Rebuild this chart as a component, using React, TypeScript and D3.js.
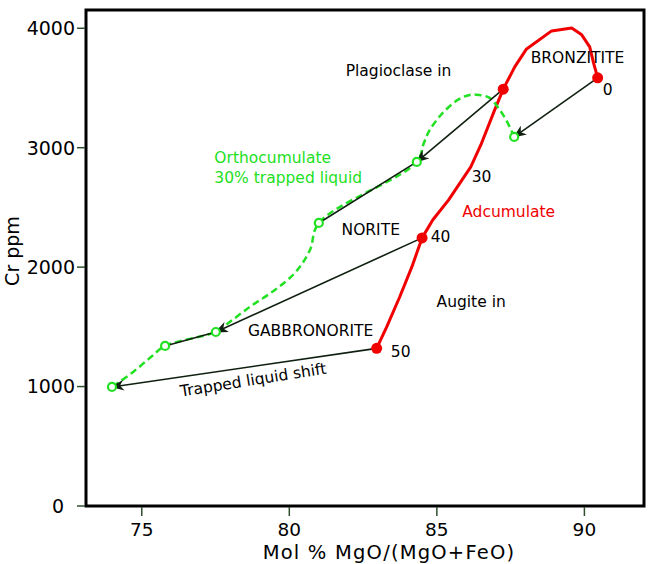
import React from "react";
import * as d3 from "d3";

const xTicks = [75, 80, 85, 90];
const yTicks = [0, 1000, 2000, 3000, 4000];

// adcumulate trend, from the 50% point up to the 0% point
const adcumulateCurve: [number, number][] = [
  [82.96, 1320], [83.3, 1500], [83.74, 1750], [84.15, 2000], [84.5, 2245],
  [84.86, 2395], [85.4, 2563], [86.15, 2839], [86.49, 3023], [86.96, 3317],
  [87.25, 3490], [87.64, 3677], [88.04, 3827], [88.89, 3978], [89.57, 4003],
  [89.91, 3945], [90.18, 3844], [90.31, 3710], [90.45, 3585],
];

const adcumulatePoints: [number, number][] = [
  [90.45, 3585], [87.25, 3490], [84.5, 2245], [82.96, 1320],
];

// orthocumulate trend with 30% trapped liquid
const orthoCurve: [number, number][] = [
  [87.62, 3090], [87.4, 3208], [87.13, 3317], [86.79, 3417], [86.42, 3442],
  [86.11, 3442], [85.71, 3400], [85.2, 3291], [84.76, 3149], [84.56, 3040],
  [84.32, 2881], [81.0, 2370], [80.7, 2144], [80.22, 1960], [79.51, 1809],
  [78.66, 1667], [77.85, 1516], [77.51, 1457], [75.79, 1340],
  [75.3, 1245], [74.72, 1125], [74.2, 1032], [73.99, 997],
];

const orthoPoints: [number, number][] = [
  [87.62, 3090], [84.32, 2881], [81.0, 2370], [77.51, 1457], [75.79, 1340], [73.99, 997],
];

// trapped liquid shift arrows (adcumulate -> orthocumulate)
const shiftArrows: [number, number][][] = [
  [[90.45, 3585], [87.62, 3090]],
  [[87.25, 3490], [84.32, 2881]],
  [[84.5, 2245], [77.51, 1457]],
  [[82.96, 1320], [73.99, 997]],
];

const shiftLinks: [number, number][][] = [
  [[84.32, 2881], [81.0, 2370]],
  [[77.51, 1457], [75.79, 1340]],
];

const labels = [
  { text: "Plagioclase in", mg: 81.91, cr: 3601, kind: "black" },
  { text: "BRONZITITE", mg: 88.18, cr: 3712, kind: "black" },
  { text: "0", mg: 90.62, cr: 3442, kind: "black" },
  { text: "30", mg: 86.18, cr: 2714, kind: "black" },
  { text: "40", mg: 84.79, cr: 2211, kind: "black" },
  { text: "50", mg: 83.44, cr: 1248, kind: "black" },
  { text: "Adcumulate", mg: 85.86, cr: 2420, kind: "red" },
  { text: "Orthocumulate", mg: 77.46, cr: 2873, kind: "green" },
  { text: "30% trapped liquid", mg: 77.46, cr: 2705, kind: "green" },
  { text: "NORITE", mg: 81.77, cr: 2270, kind: "black" },
  { text: "GABBRONORITE", mg: 78.6, cr: 1424, kind: "black" },
  { text: "Augite in", mg: 84.99, cr: 1667, kind: "black" },
];

const RED = "#f00000";
const GREEN = "#22e022";
const INK = "#102010";
const FONT = "'DejaVu Sans', Verdana, sans-serif";

export default function App() {
  const width = 653;
  const height = 564;
  const x = d3.scaleLinear().domain([73.11, 92.02]).range([86, 644]);
  const y = d3.scaleLinear().domain([0, 4153]).range([506, 10]);

  const redLine = d3.line<[number, number]>().x((d) => x(d[0])).y((d) => y(d[1]));
  const greenLine = d3
    .line<[number, number]>()
    .x((d) => x(d[0]))
    .y((d) => y(d[1]))
    .curve(d3.curveCatmullRom);

  const colorOf = (k: string) => (k === "red" ? RED : k === "green" ? GREEN : "#000");

  return (
    <svg
      width={width}
      height={height}
      style={{ position: "absolute", left: 0, top: 0, background: "#fff" }}
      fontFamily={FONT}
    >
      <defs>
        <marker
          id="arrow"
          viewBox="0 0 12 10"
          refX={11}
          refY={5}
          markerWidth={13}
          markerHeight={11}
          markerUnits="userSpaceOnUse"
          orient="auto"
        >
          <path d="M0,0 L12,5 L0,10 L3.5,5 Z" fill={INK} />
        </marker>
      </defs>

      {/* frame */}
      <rect
        x={x.range()[0]}
        y={y.range()[1]}
        width={x.range()[1] - x.range()[0]}
        height={y.range()[0] - y.range()[1]}
        fill="none"
        stroke="#000"
        strokeWidth={3}
      />

      {/* x axis */}
      {xTicks.map((t) => (
        <g key={t}>
          <line x1={x(t)} x2={x(t)} y1={507} y2={516} stroke="#2f4f2f" strokeWidth={1.5} />
          <text x={x(t)} y={536} textAnchor="middle" fontSize={18.5}>
            {t}
          </text>
        </g>
      ))}
      <text x={389} y={559} textAnchor="middle" fontSize={19.5} letterSpacing={1.2}>
        Mol % MgO/(MgO+FeO)
      </text>

      {/* y axis */}
      {yTicks.map((t) => (
        <g key={t}>
          <line x1={77} x2={85} y1={y(t)} y2={y(t)} stroke="#2f4f2f" strokeWidth={1.5} />
          <text x={t === 0 ? 64 : 75} y={y(t)} dy="0.36em" textAnchor="end" fontSize={19}>
            {t}
          </text>
        </g>
      ))}
      <text transform={`translate(18.5,251) rotate(-90)`} textAnchor="middle" fontSize={19}>
        Cr ppm
      </text>

      {/* curves */}
      <path d={redLine(adcumulateCurve) ?? ""} fill="none" stroke={RED} strokeWidth={3} strokeLinejoin="round" />
      <path
        d={greenLine(orthoCurve) ?? ""}
        fill="none"
        stroke={GREEN}
        strokeWidth={2.5}
        strokeDasharray="7 4"
      />

      {/* shift arrows */}
      {shiftLinks.map((s, i) => (
        <line
          key={"l" + i}
          x1={x(s[0][0])}
          y1={y(s[0][1])}
          x2={x(s[1][0])}
          y2={y(s[1][1])}
          stroke={INK}
          strokeWidth={1.6}
        />
      ))}
      {shiftArrows.map((s, i) => (
        <line
          key={"a" + i}
          x1={x(s[0][0])}
          y1={y(s[0][1])}
          x2={x(s[1][0])}
          y2={y(s[1][1])}
          stroke={INK}
          strokeWidth={1.6}
          markerEnd="url(#arrow)"
        />
      ))}

      {/* markers */}
      {adcumulatePoints.map((p, i) => (
        <circle key={"r" + i} cx={x(p[0])} cy={y(p[1])} r={5.5} fill={RED} />
      ))}
      {orthoPoints.map((p, i) => (
        <circle key={"g" + i} cx={x(p[0])} cy={y(p[1])} r={4} fill="#fff" stroke={GREEN} strokeWidth={2.2} />
      ))}

      {/* annotations */}
      {labels.map((l) => (
        <text key={l.text} x={x(l.mg)} y={y(l.cr)} fontSize={15.5} fill={colorOf(l.kind)}>
          {l.text}
        </text>
      ))}
      <text
        transform={`translate(${x(78.8)},${y(1013)}) rotate(-9)`}
        textAnchor="middle"
        fontSize={15.5}
        fill="#000"
      >
        Trapped liquid shift
      </text>
    </svg>
  );
}
